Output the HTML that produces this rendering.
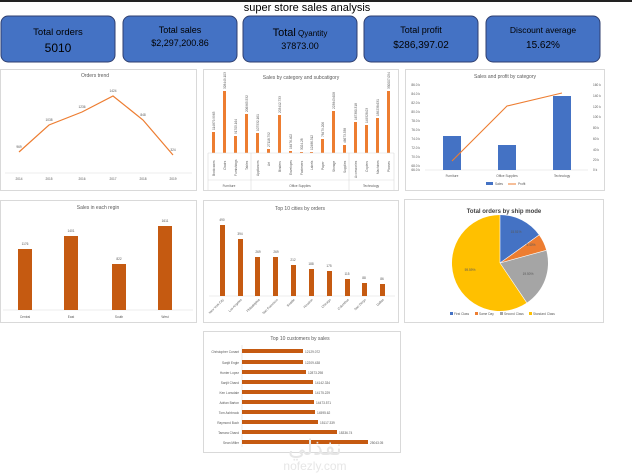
<!DOCTYPE html>
<html><head><meta charset="utf-8"><style>
html,body{margin:0;padding:0;background:#fff;width:632px;height:475px;overflow:hidden}
svg{display:block;font-family:"Liberation Sans",sans-serif}
.t{font-size:5px;fill:#595959;text-anchor:middle}
.s{font-size:3.2px;fill:#595959}
.k{fill:#000;text-anchor:middle}
</style></head><body>
<svg width="632" height="475" viewBox="0 0 632 475" xmlns="http://www.w3.org/2000/svg">
<rect x="0" y="0" width="632" height="2" fill="#222"/>
<text x="307" y="11" font-size="11" text-anchor="middle" fill="#000">super store sales analysis</text>
<g fill="#4472C4" stroke="#2F3F6F" stroke-width="1">
<rect x="1" y="16" width="114" height="46" rx="7"/>
<rect x="123" y="16" width="114" height="46" rx="7"/>
<rect x="243" y="16" width="114" height="46" rx="7"/>
<rect x="364" y="16" width="114" height="46" rx="7"/>
<rect x="486" y="16" width="114" height="46" rx="7"/>
</g>
<text class="k" x="58" y="35" font-size="9.5">Total orders</text>
<text class="k" x="58" y="52" font-size="12">5010</text>
<text class="k" x="180" y="33" font-size="9">Total sales</text>
<text class="k" x="180" y="46" font-size="9">$2,297,200.86</text>
<text class="k" x="300" y="36" font-size="8"><tspan font-size="11">Total</tspan> Qyantity</text>
<text class="k" x="300" y="49" font-size="9">37873.00</text>
<text class="k" x="421" y="33" font-size="9">Total profit</text>
<text class="k" x="421" y="48" font-size="10">$286,397.02</text>
<text class="k" x="543" y="33" font-size="8.5">Discount average</text>
<text class="k" x="543" y="48" font-size="10">15.62%</text>

<g fill="#fff" stroke="#d9d9d9" stroke-width="1">
<rect x="0.5" y="69.5" width="196" height="121"/>
<rect x="203.5" y="69.5" width="195" height="121"/>
<rect x="405.5" y="69.5" width="199" height="121"/>
<rect x="0.5" y="200.5" width="196" height="122"/>
<rect x="203.5" y="200.5" width="195" height="122"/>
<rect x="404.5" y="199.5" width="199" height="123"/>
<rect x="203.5" y="331.5" width="197" height="121"/>
</g>

<!-- Orders trend -->
<text class="t" x="95" y="77">Orders trend</text>
<line x1="5" y1="173" x2="192" y2="173" stroke="#d9d9d9" stroke-width="0.6"/>
<polyline points="19,152 49,125 82,112 113,96 143,120 173,155" fill="none" stroke="#ED7D31" stroke-width="1.2"/>
<g class="s" text-anchor="middle">
<text x="19" y="148">969</text><text x="49" y="121">1038</text><text x="82" y="108">1236</text><text x="113" y="92">1424</text><text x="143" y="116">848</text><text x="173" y="151">324</text>
<text x="19" y="180">2014</text><text x="49" y="180">2015</text><text x="82" y="180">2016</text><text x="113" y="180">2017</text><text x="143" y="180">2018</text><text x="173" y="180">2019</text>
</g>

<!-- Sales by category -->
<text class="t" x="301" y="79">Sales by category and subcatigory</text>
<g fill="#ED7D31">
<rect x="212" y="132" width="3" height="21"/><rect x="223" y="91" width="3" height="62"/><rect x="234" y="136" width="3" height="17"/><rect x="245" y="114" width="3" height="39"/>
<rect x="256" y="133" width="3" height="20"/><rect x="267" y="149" width="3" height="4"/><rect x="278" y="115" width="3" height="38"/><rect x="289" y="151" width="3" height="2"/><rect x="300" y="152" width="3" height="1"/><rect x="310" y="152" width="3" height="1"/><rect x="321" y="139" width="3" height="14"/><rect x="332" y="111" width="3" height="42"/><rect x="343" y="145" width="3" height="8"/>
<rect x="354" y="122" width="3" height="31"/><rect x="365" y="125" width="3" height="28"/><rect x="376" y="118" width="3" height="35"/><rect x="387" y="91" width="3" height="62"/>
</g>
<g stroke="#d9d9d9" stroke-width="0.6" fill="none">
<line x1="208" y1="153" x2="394" y2="153"/><line x1="208" y1="153" x2="208" y2="190"/><line x1="251" y1="153" x2="251" y2="190"/><line x1="349" y1="153" x2="349" y2="190"/><line x1="394" y1="153" x2="394" y2="190"/><line x1="208" y1="180" x2="394" y2="180"/>
</g>
<g class="s" font-size="3.5">
<text transform="translate(215,176) rotate(-90)">Bookcases</text><text transform="translate(226,170) rotate(-90)">Chairs</text><text transform="translate(237,176) rotate(-90)">Furnishings</text><text transform="translate(248,170) rotate(-90)">Tables</text>
<text transform="translate(259,176) rotate(-90)">Appliances</text><text transform="translate(270,166) rotate(-90)">Art</text><text transform="translate(281,172) rotate(-90)">Binders</text><text transform="translate(292,175) rotate(-90)">Envelopes</text><text transform="translate(303,175) rotate(-90)">Fasteners</text><text transform="translate(313,170) rotate(-90)">Labels</text><text transform="translate(324,170) rotate(-90)">Paper</text><text transform="translate(335,172) rotate(-90)">Storage</text><text transform="translate(346,173) rotate(-90)">Supplies</text>
<text transform="translate(357,178) rotate(-90)">Accessories</text><text transform="translate(368,172) rotate(-90)">Copiers</text><text transform="translate(379,174) rotate(-90)">Machines</text><text transform="translate(390,172) rotate(-90)">Phones</text>
<text x="229" y="187" text-anchor="middle">Furniture</text><text x="300" y="187" text-anchor="middle">Office Supplies</text><text x="371" y="187" text-anchor="middle">Technology</text>
</g>
<g class="s" font-size="2.8">
<text transform="translate(215,130) rotate(-90)">114879.9963</text><text transform="translate(226,89) rotate(-90)">328449.103</text><text transform="translate(237,134) rotate(-90)">91705.164</text><text transform="translate(248,112) rotate(-90)">206965.532</text>
<text transform="translate(259,131) rotate(-90)">107532.161</text><text transform="translate(270,147) rotate(-90)">27118.792</text><text transform="translate(281,113) rotate(-90)">203412.733</text><text transform="translate(292,149) rotate(-90)">16476.402</text><text transform="translate(303,150) rotate(-90)">3024.28</text><text transform="translate(313,150) rotate(-90)">12486.312</text><text transform="translate(324,137) rotate(-90)">78479.206</text><text transform="translate(335,109) rotate(-90)">223843.608</text><text transform="translate(346,143) rotate(-90)">46673.538</text>
<text transform="translate(357,120) rotate(-90)">167380.318</text><text transform="translate(368,123) rotate(-90)">149528.03</text><text transform="translate(379,116) rotate(-90)">189238.631</text><text transform="translate(390,89) rotate(-90)">330007.054</text>
</g>

<!-- Sales and profit -->
<text class="t" x="505" y="78">Sales and profit by category</text>
<g class="s" text-anchor="end">
<text x="420" y="86">86.0 k</text><text x="420" y="95">84.0 k</text><text x="420" y="104">82.0 k</text><text x="420" y="113">80.0 k</text><text x="420" y="122">78.0 k</text><text x="420" y="131">76.0 k</text><text x="420" y="140">74.0 k</text><text x="420" y="149">72.0 k</text><text x="420" y="158">70.0 k</text><text x="420" y="167">68.0 k</text><text x="420" y="171">66.0 k</text>
</g>
<g class="s">
<text x="593" y="86">160 k</text><text x="593" y="97">140 k</text><text x="593" y="108">120 k</text><text x="593" y="118">100 k</text><text x="593" y="129">80 k</text><text x="593" y="140">60 k</text><text x="593" y="151">40 k</text><text x="593" y="161">20 k</text><text x="593" y="171">0 k</text>
</g>
<line x1="425" y1="170" x2="588" y2="170" stroke="#d9d9d9" stroke-width="0.6"/>
<g fill="#4472C4">
<rect x="443" y="136" width="18" height="34"/><rect x="498" y="145" width="18" height="25"/><rect x="553" y="96" width="18" height="74"/>
</g>
<polyline points="452,161 507,106 562,93" fill="none" stroke="#ED7D31" stroke-width="1.1"/>
<g class="s" text-anchor="middle"><text x="452" y="177">Furniture</text><text x="507" y="177">Office Supplies</text><text x="562" y="177">Technology</text></g>
<rect x="486" y="182" width="7" height="3" fill="#4472C4"/><text class="s" x="495" y="185">Sales</text>
<line x1="508" y1="184" x2="516" y2="184" stroke="#ED7D31" stroke-width="1"/><text class="s" x="518" y="185">Profit</text>

<!-- Sales in each region -->
<text class="t" x="98" y="209">Sales in each regin</text>
<line x1="3" y1="310" x2="193" y2="310" stroke="#d9d9d9" stroke-width="0.6"/>
<g fill="#C55A11">
<rect x="18" y="249" width="14" height="61"/><rect x="64" y="236" width="14" height="74"/><rect x="112" y="264" width="14" height="46"/><rect x="158" y="226" width="14" height="84"/>
</g>
<g class="s" text-anchor="middle">
<text x="25" y="245">1176</text><text x="71" y="232">1401</text><text x="119" y="260">822</text><text x="165" y="222">1611</text>
<text x="25" y="318">Central</text><text x="71" y="318">East</text><text x="119" y="318">South</text><text x="165" y="318">West</text>
</g>

<!-- Top 10 cities -->
<text class="t" x="300" y="210">Top 10 cities by orders</text>
<line x1="209" y1="296" x2="395" y2="296" stroke="#d9d9d9" stroke-width="0.6"/>
<g fill="#C55A11">
<rect x="220" y="225" width="5" height="71"/><rect x="238" y="239" width="5" height="57"/><rect x="255" y="257" width="5" height="39"/><rect x="273" y="257" width="5" height="39"/><rect x="291" y="265" width="5" height="31"/><rect x="309" y="269" width="5" height="27"/><rect x="327" y="271" width="5" height="25"/><rect x="345" y="279" width="5" height="17"/><rect x="362" y="283" width="5" height="13"/><rect x="380" y="284" width="5" height="12"/>
</g>
<g class="s" text-anchor="middle">
<text x="222" y="221">490</text><text x="240" y="235">394</text><text x="258" y="253">269</text><text x="276" y="253">269</text><text x="293" y="261">212</text><text x="311" y="265">188</text><text x="329" y="267">175</text><text x="347" y="275">115</text><text x="364" y="279">88</text><text x="382" y="280">86</text>
</g>
<g class="s" text-anchor="end">
<text transform="translate(224,300) rotate(-45)">New York City</text><text transform="translate(242,300) rotate(-45)">Los Angeles</text><text transform="translate(260,300) rotate(-45)">Philadelphia</text><text transform="translate(278,300) rotate(-45)">San Francisco</text><text transform="translate(295,300) rotate(-45)">Seattle</text><text transform="translate(313,300) rotate(-45)">Houston</text><text transform="translate(331,300) rotate(-45)">Chicago</text><text transform="translate(349,300) rotate(-45)">Columbus</text><text transform="translate(366,300) rotate(-45)">San Diego</text><text transform="translate(384,300) rotate(-45)">Dallas</text>
</g>

<!-- Pie -->
<text x="504" y="213" font-size="6" font-weight="bold" fill="#404040" text-anchor="middle">Total orders by ship mode</text>
<g transform="translate(500,263)">
<path d="M0,0 L0,-48 A48,48 0 0 1 39.0,-28.0 Z" fill="#4472C4"/>
<path d="M0,0 L39.0,-28.0 A48,48 0 0 1 46.3,-12.7 Z" fill="#ED7D31"/>
<path d="M0,0 L46.3,-12.7 A48,48 0 0 1 26.8,39.8 Z" fill="#A5A5A5"/>
<path d="M0,0 L26.8,39.8 A48,48 0 1 1 0,-48 Z" fill="#FFC000"/>
<g stroke="#fff" stroke-width="0.6" fill="none"><line x1="0" y1="0" x2="0" y2="-48"/><line x1="0" y1="0" x2="39" y2="-28"/><line x1="0" y1="0" x2="46.3" y2="-12.7"/><line x1="0" y1="0" x2="26.8" y2="39.8"/></g>
<g class="s" text-anchor="middle"><text x="16" y="-30">15.51%</text><text x="31" y="-17">5.40%</text><text x="28" y="12">19.50%</text><text x="-30" y="8">59.59%</text></g>
</g>
<g class="s">
<rect x="450" y="312" width="3" height="3" fill="#4472C4"/><text x="454" y="315">First Class</text>
<rect x="475" y="312" width="3" height="3" fill="#ED7D31"/><text x="479" y="315">Same Day</text>
<rect x="500" y="312" width="3" height="3" fill="#A5A5A5"/><text x="504" y="315">Second Class</text>
<rect x="529" y="312" width="3" height="3" fill="#FFC000"/><text x="533" y="315">Standard Class</text>
</g>

<!-- Top 10 customers -->
<text class="t" x="300" y="340">Top 10 customers by sales</text>
<line x1="242" y1="345" x2="242" y2="447" stroke="#d9d9d9" stroke-width="0.6"/>
<g fill="#C55A11">
<rect x="242" y="349" width="61" height="4"/><rect x="242" y="360" width="61" height="4"/><rect x="242" y="370" width="64" height="4"/><rect x="242" y="380" width="71" height="4"/><rect x="242" y="390" width="71" height="4"/><rect x="242" y="400" width="72" height="4"/><rect x="242" y="410" width="73" height="4"/><rect x="242" y="420" width="76" height="4"/><rect x="242" y="430" width="95" height="4"/><rect x="242" y="440" width="126" height="4"/>
</g>
<g class="s" text-anchor="end">
<text x="239" y="353">Christopher Conant</text><text x="239" y="364">Sanjit Engle</text><text x="239" y="374">Hunter Lopez</text><text x="239" y="384">Sanjit Chand</text><text x="239" y="394">Ken Lonsdale</text><text x="239" y="404">Adrian Barton</text><text x="239" y="414">Tom Ashbrook</text><text x="239" y="424">Raymond Buch</text><text x="239" y="434">Tamara Chand</text><text x="239" y="444">Sean Miller</text>
</g>
<g class="s">
<text x="305" y="353">12129.072</text><text x="305" y="364">12209.438</text><text x="308" y="374">12873.298</text><text x="315" y="384">14142.334</text><text x="315" y="394">14175.229</text><text x="316" y="404">14473.571</text><text x="317" y="414">14595.62</text><text x="320" y="424">15117.339</text><text x="339" y="434">18336.74</text><text x="370" y="444">25043.05</text>
</g>

<!-- watermark -->
<text x="315" y="455" font-size="22" fill="#e6e6e6" text-anchor="middle" font-family="'DejaVu Sans',sans-serif">نفذلي</text>
<text x="315" y="470" font-size="12" fill="#e6e6e6" text-anchor="middle">nofezly.com</text>
</svg>
</body></html>
